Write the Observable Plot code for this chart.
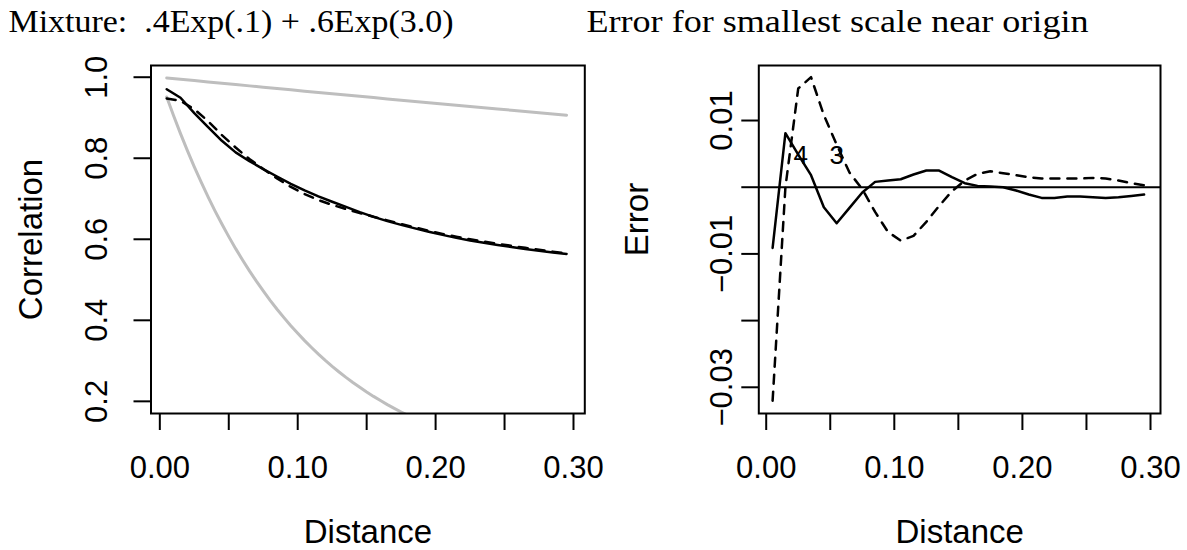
<!DOCTYPE html>
<html>
<head>
<meta charset="utf-8">
<script src="https://cdn.jsdelivr.net/npm/d3@7"></script>
<script src="https://cdn.jsdelivr.net/npm/@observablehq/plot@0.6"></script>
<style>
  html, body { margin: 0; padding: 0; background: white; }
  #wrap { position: relative; width: 1187px; height: 550px; overflow: hidden; background: white; }
  #wrap svg { position: absolute; left: 0; top: 0; }
</style>
</head>
<body>
<div id="wrap"></div>
<script>
// ---------- data ----------
const distance = [0.005, 0.015, 0.025, 0.035, 0.045, 0.055, 0.065, 0.075, 0.085, 0.095,
                  0.105, 0.115, 0.125, 0.135, 0.145, 0.155, 0.165, 0.175, 0.185, 0.195,
                  0.205, 0.215, 0.225, 0.235, 0.245, 0.255, 0.265, 0.275, 0.285, 0.295];
// black solid (4-term approximation)
const corrSolid = [0.9704, 0.9494, 0.9114, 0.8767, 0.8431, 0.8145, 0.7927, 0.7733, 0.7549, 0.7370,
                   0.7206, 0.7060, 0.6926, 0.6798, 0.6670, 0.6553, 0.6449, 0.6356, 0.6270, 0.6187,
                   0.6108, 0.6035, 0.5972, 0.5916, 0.5861, 0.5809, 0.5760, 0.5715, 0.5675, 0.5637];
// black dashed (3-term approximation)
const corrDashed = [0.9475, 0.9413, 0.9213, 0.8914, 0.8571, 0.8264, 0.7980, 0.7736, 0.7502, 0.7292,
                    0.7114, 0.6968, 0.6849, 0.6745, 0.6649, 0.6557, 0.6467, 0.6379, 0.6291, 0.6210,
                    0.6134, 0.6064, 0.6001, 0.5943, 0.5888, 0.5838, 0.5789, 0.5740, 0.5694, 0.5651];
// gray component, large scale
const grayTop = [0.9983, 0.9950, 0.9917, 0.9884, 0.9851, 0.9818, 0.9786, 0.9753, 0.9721, 0.9688,
                 0.9656, 0.9624, 0.9592, 0.9560, 0.9528, 0.9497, 0.9465, 0.9434, 0.9402, 0.9371,
                 0.9340, 0.9309, 0.9278, 0.9247, 0.9216, 0.9185, 0.9155, 0.9124, 0.9094, 0.9064];
// gray component, small scale
const grayLowDist = [0.005, 0.010, 0.015, 0.020, 0.025, 0.030, 0.035, 0.040, 0.045, 0.050,
                     0.055, 0.060, 0.065, 0.070, 0.075, 0.080, 0.085, 0.090, 0.095, 0.100,
                     0.105, 0.110, 0.115, 0.120, 0.125, 0.130, 0.135, 0.140, 0.145, 0.150,
                     0.155, 0.160, 0.165, 0.170, 0.175, 0.180, 0.185];
const grayLow = [0.9512, 0.9048, 0.8607, 0.8187, 0.7788, 0.7408, 0.7047, 0.6703, 0.6376, 0.6065,
                 0.5769, 0.5488, 0.5220, 0.4966, 0.4724, 0.4493, 0.4274, 0.4066, 0.3867, 0.3679,
                 0.3499, 0.3329, 0.3166, 0.3012, 0.2865, 0.2725, 0.2592, 0.2466, 0.2346, 0.2231,
                 0.2122, 0.2019, 0.1920, 0.1827, 0.1738, 0.1653, 0.1572];
// errors (right panel)
const error4 = [-0.0091, 0.0081, 0.0049, 0.0018, -0.0030, -0.0054, -0.0031, -0.0008, 0.0008, 0.0010,
                0.0012, 0.0019, 0.0025, 0.0025, 0.0015, 0.0006, 0.0002, 0.0001, 0.0000, -0.0005,
                -0.0011, -0.0016, -0.0016, -0.0014, -0.0014, -0.0015, -0.0016, -0.0015, -0.0013, -0.0011];
const error3 = [-0.0320, 0.0000, 0.0148, 0.0165, 0.0108, 0.0064, 0.0022, -0.0003, -0.0037, -0.0067,
                -0.0080, -0.0073, -0.0052, -0.0028, -0.0006, 0.0010, 0.0020, 0.0024, 0.0021, 0.0018,
                0.0015, 0.0013, 0.0013, 0.0013, 0.0013, 0.0014, 0.0013, 0.0010, 0.0006, 0.0003];
const curveLabels = ["4", "3"];
const curveLabelX = [0.027, 0.055];
const curveLabelY = [0.0048, 0.0048];

const xTicks = [0.00, 0.05, 0.10, 0.15, 0.20, 0.25, 0.30];
const xTickLabels = ["0.00", "", "0.10", "", "0.20", "", "0.30"];
const yTicksL = [0.2, 0.4, 0.6, 0.8, 1.0];
const yTickLabelsL = ["0.2", "0.4", "0.6", "0.8", "1.0"];
const yTicksR = [-0.03, -0.02, -0.01, 0.00, 0.01];
const yTickLabelsR = ["\u22120.03", "", "\u22120.01", "", "0.01"];

const titleL = "Mixture:  .4Exp(.1) + .6Exp(3.0)";
const titleR = "Error for smallest scale near origin";
const xLabel = "Distance";
const yLabelL = "Correlation";
const yLabelR = "Error";

// ---------- helpers ----------
const W = 1187, H = 550;
const sans = "Liberation Sans, Arial, Helvetica, sans-serif";
const serif = "Liberation Serif, Times New Roman, serif";
const tickFontSize = 31;
const labFontSize = 33;

const rows = (xs, ys) => xs.map((x, i) => ({x, y: ys[i]}));
const fmtX = d => xTickLabels[xTicks.findIndex(t => Math.abs(t - d) < 1e-9)];

function panel({left, right, xDomain, yDomain, yTicks, yTickLabels, yLabDx, yTitle, yTitleDx, yTitleDy, title, titleDx, marks}) {
  const yLab = yTicks.map((v, i) => ({v, t: yTickLabels[i]})).filter(d => d.t !== "");
  return Plot.plot({
    width: W, height: H,
    marginLeft: left, marginRight: W - right, marginTop: 65, marginBottom: H - 413,
    style: {fontFamily: sans, background: "transparent", overflow: "visible", color: "black"},
    x: {domain: xDomain},
    y: {domain: yDomain},
    marks: [
      ...marks,
      Plot.frame({stroke: "black", strokeWidth: 2}),
      Plot.axisX({ticks: xTicks, tickSize: 17, tickPadding: 25, strokeWidth: 2, fontSize: tickFontSize, tickFormat: fmtX, label: null}),
      Plot.axisY({ticks: yTicks, tickSize: 17, strokeWidth: 2, tickFormat: () => "", label: null}),
      Plot.text(yLab, {y: "v", text: "t", frameAnchor: "left", rotate: -90, dx: yLabDx, lineAnchor: "middle", textAnchor: "middle", fontSize: tickFontSize, fill: "black"}),
      Plot.text([xLabel], {frameAnchor: "bottom", dy: 129, lineAnchor: "bottom", fontSize: labFontSize, fill: "black"}),
      Plot.text([yTitle], {frameAnchor: "left", rotate: -90, dx: yTitleDx, dy: yTitleDy, lineAnchor: "bottom", textAnchor: "middle", fontSize: labFontSize, fill: "black"}),
      Plot.text([title], {frameAnchor: "top-left", dx: titleDx, dy: 31.7 - 65, textAnchor: "start", lineAnchor: "bottom", fontFamily: serif, fontSize: 32, fill: "black"})
    ]
  });
}

const left = panel({
  left: 150.5, right: 584.3,
  xDomain: [-0.0064, 0.3082], yDomain: [0.170, 1.0289],
  yTicks: yTicksL, yTickLabels: yTickLabelsL, yLabDx: -53.5,
  yTitle: yLabelL, yTitleDx: 41.7 - 150.5, yTitleDy: 0,
  title: titleL, titleDx: 8 - 150.5,
  marks: [
    Plot.line(rows(distance, grayTop), {x: "x", y: "y", stroke: "#bebebe", strokeWidth: 3, clip: true}),
    Plot.line(rows(grayLowDist, grayLow), {x: "x", y: "y", stroke: "#bebebe", strokeWidth: 3, clip: true}),
    Plot.line(rows(distance, corrDashed), {x: "x", y: "y", stroke: "black", strokeWidth: 2.5, strokeDasharray: "9,8", clip: true}),
    Plot.line(rows(distance, corrSolid), {x: "x", y: "y", stroke: "black", strokeWidth: 2.5, clip: true})
  ]
});

const right = panel({
  left: 758.3, right: 1160,
  xDomain: [-0.00578, 0.3078], yDomain: [-0.03393, 0.01825],
  yTicks: yTicksR, yTickLabels: yTickLabelsR, yLabDx: -37,
  yTitle: yLabelR, yTitleDx: 647 - 758.3, yTitleDy: -20,
  title: titleR, titleDx: 586 - 758.3,
  marks: [
    Plot.ruleY([0], {stroke: "black", strokeWidth: 2}),
    Plot.line(rows(distance, error3), {x: "x", y: "y", stroke: "black", strokeWidth: 2.5, strokeDasharray: "9,8", clip: true}),
    Plot.line(rows(distance, error4), {x: "x", y: "y", stroke: "black", strokeWidth: 2.5, clip: true}),
    Plot.text(curveLabels.map((t, i) => ({t, x: curveLabelX[i], y: curveLabelY[i]})), {x: "x", y: "y", text: "t", fontSize: 26, fill: "black"})
  ]
});

const wrap = document.getElementById("wrap");
wrap.appendChild(left);
wrap.appendChild(right);

// stretch the serif titles to the reference widths
function fitText(svg, str, width) {
  svg.querySelectorAll("text").forEach(t => {
    if (t.textContent === str) {
      t.setAttribute("textLength", width);
      t.setAttribute("lengthAdjust", "spacingAndGlyphs");
    }
  });
}
fitText(left, titleL, 445);
fitText(right, titleR, 502);
</script>
</body>
</html>
